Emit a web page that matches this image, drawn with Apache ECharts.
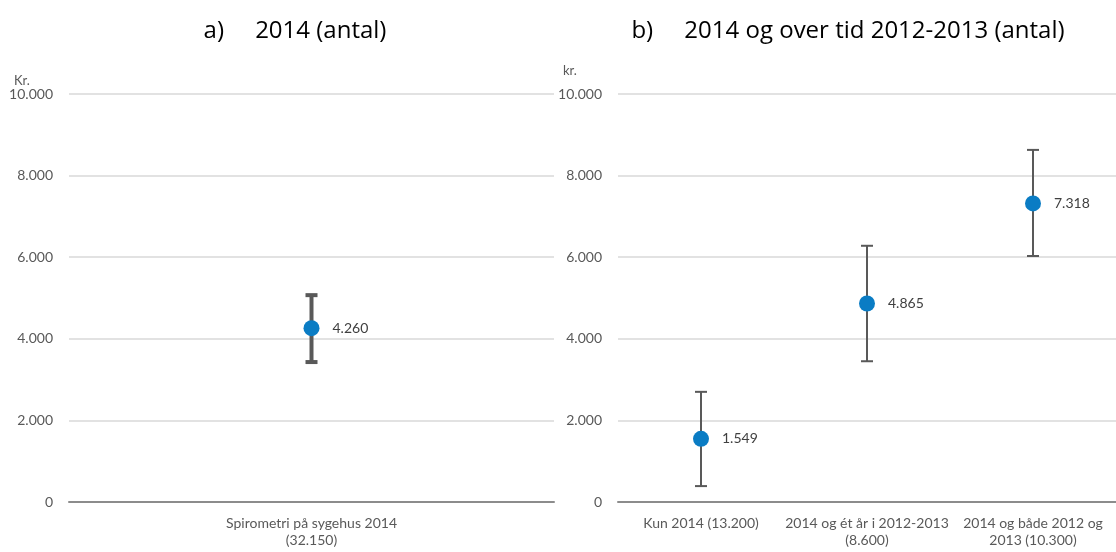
<!DOCTYPE html>
<html>
<head>
<meta charset="utf-8">
<script src="https://cdn.jsdelivr.net/npm/echarts@6/dist/echarts.min.js"></script>
<style>html,body{margin:0;padding:0;background:#fff}#c{width:1116px;height:552px}</style>
</head>
<body>
<div id="c"></div>
<script>
// ---- data ----
const titleA = 'a)     2014 (antal)';
const titleB = 'b)     2014 og over tid 2012-2013 (antal)';
const catsA = ['Spirometri på sygehus 2014\n(32.150)'];
const valuesA = [4260];
const lowA = [3430];
const highA = [5070];
const catsB = ['Kun 2014 (13.200)', '2014 og ét år i 2012-2013\n(8.600)', '2014 og både 2012 og\n2013 (10.300)'];
const valuesB = [1549, 4865, 7318];
const lowB = [390, 3450, 6030];
const highB = [2700, 6280, 8630];
const yTicks = [0, 2000, 4000, 6000, 8000, 10000];

const FONT = 'Lato';
const TFONT = 'Open Sans';
const fmt = v => v === 0 ? '0' : String(v).replace(/\B(?=(\d{3})+(?!\d))/g, '.');

function errSeries(idx, lows, highs, width) {
  return {
    type: 'custom', xAxisIndex: idx, yAxisIndex: idx, z: 2,
    data: lows.map((l, i) => [i, l, highs[i]]),
    renderItem: function (params, api) {
      const lo = api.coord([api.value(0), api.value(1)]);
      const hi = api.coord([api.value(0), api.value(2)]);
      const hw = 6;
      const style = { stroke: '#595959', lineWidth: width };
      return { type: 'group', children: [
        { type: 'line', shape: { x1: lo[0], y1: lo[1], x2: hi[0], y2: hi[1] }, style },
        { type: 'line', shape: { x1: hi[0] - hw, y1: hi[1], x2: hi[0] + hw, y2: hi[1] }, style },
        { type: 'line', shape: { x1: lo[0] - hw, y1: lo[1], x2: lo[0] + hw, y2: lo[1] }, style }
      ]};
    }
  };
}
function dotSeries(idx, vals) {
  return {
    type: 'scatter', xAxisIndex: idx, yAxisIndex: idx, z: 3,
    symbolSize: 16, itemStyle: { color: '#0A7CC4', opacity: 1 },
    data: vals.map((v, i) => [i, v]),
    label: { show: true, position: 'right', distance: 13, color: '#404040',
      fontFamily: FONT, fontSize: 14, formatter: p => fmt(p.value[1]) }
  };
}
function yAx(idx) {
  return {
    type: 'value', gridIndex: idx, min: yTicks[0], max: yTicks[yTicks.length - 1], interval: 2000,
    axisLine: { show: false }, axisTick: { show: false },
    axisLabel: { color: '#595959', fontFamily: FONT, fontSize: 14, margin: 16, formatter: fmt },
    splitLine: { lineStyle: { color: '#D9D9D9', width: 1.5 } }
  };
}
function xAx(idx, cats) {
  return {
    type: 'category', gridIndex: idx, data: cats, boundaryGap: true,
    axisLine: { lineStyle: { color: '#8C8C8C', width: 2 } }, axisTick: { show: false },
    axisLabel: { interval: 0, color: '#595959', fontFamily: FONT, fontSize: 14, margin: 13, lineHeight: 17 }
  };
}

const chart = echarts.init(document.getElementById('c'), null, { renderer: 'canvas' });
chart.setOption({
  animation: false,
  title: [
    { text: titleA, left: 290, top: 14, textAlign: 'center', textStyle: { fontFamily: TFONT, fontSize: 24, fontWeight: 'normal', color: '#000' } },
    { text: titleB, left: 843, top: 14, textAlign: 'center', textStyle: { fontFamily: TFONT, fontSize: 24, fontWeight: 'normal', color: '#000' } }
  ],
  graphic: [
    { type: 'text', left: 14, top: 74, style: { text: 'Kr.', fontFamily: FONT, fontSize: 13, fill: '#595959' } },
    { type: 'text', left: 563, top: 64, style: { text: 'kr.', fontFamily: FONT, fontSize: 13, fill: '#595959' } }
  ],
  grid: [
    { left: 69, top: 94, width: 485, height: 408 },
    { left: 618, top: 94, width: 507, height: 408 }
  ],
  xAxis: [xAx(0, catsA), xAx(1, catsB)],
  yAxis: [yAx(0), yAx(1)],
  series: [
    errSeries(0, lowA, highA, 4), dotSeries(0, valuesA),
    errSeries(1, lowB, highB, 2), dotSeries(1, valuesB)
  ]
});
</script>
</body>
</html>
